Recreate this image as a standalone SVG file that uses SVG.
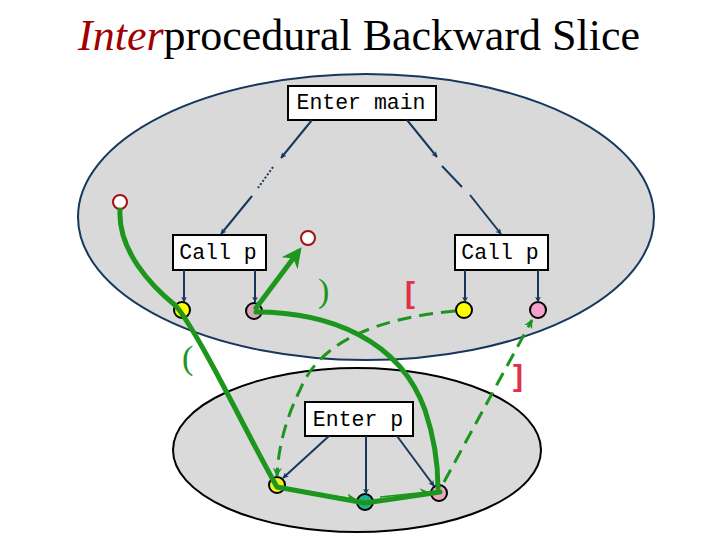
<svg xmlns="http://www.w3.org/2000/svg" width="720" height="540" viewBox="0 0 720 540">
<defs>
<style>
.title{font-family:"Liberation Serif","Times New Roman",serif;font-size:44px;fill:#000}
.lbl{font-family:"Liberation Mono","Courier New",monospace;font-size:21.5px;fill:#000}
.box{fill:#fff;stroke:#000;stroke-width:2}
.nav{stroke:#17375E;stroke-width:2;fill:none}
.nd{stroke:#000;stroke-width:2}
.red{fill:#fff;stroke:#A01010;stroke-width:2}
.thick{stroke:#1C961C;stroke-width:5;fill:none;stroke-linecap:round;stroke-linejoin:round}
.dash{stroke:#1C961C;stroke-width:3;fill:none;stroke-dasharray:14 8}
.thin{stroke:#1C961C;stroke-width:1.5;fill:none}
.par{font-family:"Liberation Serif",serif;font-size:34px;fill:#1C961C}
.brk{font-family:"Liberation Sans",Arial,sans-serif;font-size:30px;font-weight:bold;fill:#E0304A}
</style>
<marker id="an" viewBox="0 0 10 10" refX="9" refY="5" markerWidth="6" markerHeight="6" orient="auto" markerUnits="userSpaceOnUse">
<path d="M0,0 L10,5 L0,10 L3,5 Z" fill="#17375E"/>
</marker>
<marker id="ag" viewBox="0 0 10 10" refX="9" refY="5" markerWidth="9" markerHeight="9" orient="auto" markerUnits="userSpaceOnUse">
<path d="M0,0 L10,5 L0,10 L3,5 Z" fill="#1C961C"/>
</marker>
<marker id="agb" viewBox="0 0 10 10" refX="7" refY="5" markerWidth="20" markerHeight="20" orient="auto" markerUnits="userSpaceOnUse">
<path d="M0,0 L10,5 L0,10 L3,5 Z" fill="#1C961C"/>
</marker>
</defs>
<rect width="720" height="540" fill="#fff"/>
<text class="title" x="78" y="50"><tspan font-style="italic" fill="#A00000">Inter</tspan>procedural Backward Slice</text>

<g id="main-region"><ellipse cx="366" cy="217" rx="288" ry="143" fill="#D9D9D9" stroke="#17375E" stroke-width="2"/></g>
<g id="p-region"><ellipse cx="357" cy="450" rx="184" ry="82" fill="#DADADA" stroke="#000" stroke-width="2"/></g>

<g id="enter-main"><rect class="box" x="288" y="86" width="148" height="34"/><text class="lbl" x="361" y="109" text-anchor="middle">Enter main</text></g>
<g id="call-p-1"><rect class="box" x="173" y="235" width="93" height="35"/><text class="lbl" x="218" y="259" text-anchor="middle">Call p</text></g>
<g id="call-p-2"><rect class="box" x="455" y="235" width="93" height="35"/><text class="lbl" x="500" y="259" text-anchor="middle">Call p</text></g>
<g id="enter-p"><rect class="box" x="305" y="402" width="108" height="34"/><text class="lbl" x="358" y="426" text-anchor="middle">Enter p</text></g>

<g id="n-red-1"><circle class="red" cx="120" cy="202" r="7"/></g>
<g id="n-red-2"><circle class="red" cx="308" cy="238" r="7"/></g>
<g id="n-ain-1"><circle class="nd" cx="182" cy="310" r="8" fill="#FFFF00"/></g>
<g id="n-aout-1"><circle class="nd" cx="254" cy="311" r="8" fill="#D8A8B8"/></g>
<g id="n-ain-2"><circle class="nd" cx="464" cy="310" r="8" fill="#FFFF00"/></g>
<g id="n-aout-2"><circle class="nd" cx="538" cy="310" r="8" fill="#F4A0C8"/></g>
<g id="n-fin"><circle class="nd" cx="277" cy="485" r="8" fill="#EEEE20"/></g>
<g id="n-mid"><circle class="nd" cx="365" cy="502" r="8" fill="#20B090"/></g>
<g id="n-fout"><circle class="nd" cx="439" cy="493" r="8" fill="#E8A8C0"/></g>

<g id="connectors">
<path class="nav" d="M312,120 L281,158" marker-end="url(#an)"/>
<path class="nav" d="M273,167 L258,188" stroke-dasharray="2 2"/>
<path class="nav" d="M252,196 L221,234" marker-end="url(#an)"/>
<path class="nav" d="M407,120 L437,157" marker-end="url(#an)"/>
<path class="nav" d="M442,166 L462,187"/>
<path class="nav" d="M470,195 L501,234" marker-end="url(#an)"/>
<path class="nav" d="M184,270 L184,302" marker-end="url(#an)"/>
<path class="nav" d="M255,270 L255,302" marker-end="url(#an)"/>
<path class="nav" d="M465,270 L465,302" marker-end="url(#an)"/>
<path class="nav" d="M538,270 L538,302" marker-end="url(#an)"/>
<path class="nav" d="M329,436 L283,478" marker-end="url(#an)"/>
<path class="nav" d="M366,436 L366,494" marker-end="url(#an)"/>
<path class="nav" d="M397,436 L434,486" marker-end="url(#an)"/>

<path class="thick" d="M120,210 C118,250 150,285 176,306 C200,335 250,440 277,487 L365,503 L440,492"/>
<path class="thin" d="M290,490 L355,499" marker-end="url(#ag)"/>
<path class="thin" d="M380,497 L428,492" marker-end="url(#ag)"/>
<path class="thick" d="M438,488 C438,470 435,440 425,410 C400,340 330,312 256,312"/>
<path class="thick" d="M256,308 L298,252" marker-end="url(#agb)"/>
<path class="dash" d="M455,311 C380,318 320,340 300,390 C285,420 278,450 277,476" marker-end="url(#ag)"/>
<path class="dash" d="M444,482 L532,320" marker-end="url(#ag)"/>
</g>

<text class="par" x="182" y="369">(</text>
<text class="par" x="318" y="302">)</text>
<text class="brk" x="405" y="303">[</text>
<text class="brk" x="513" y="386">]</text>
</svg>
